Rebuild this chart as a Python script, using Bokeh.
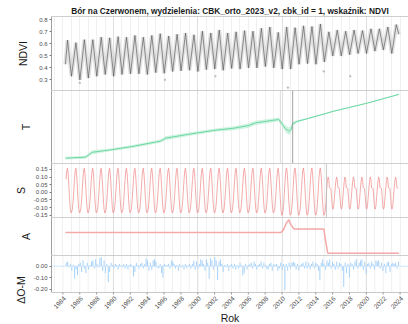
import numpy as np
from math import pi
from bokeh.plotting import figure
from bokeh.layouts import column
from bokeh.models import Range1d, FixedTicker, Span, Grid
from bokeh.core.properties import value
from bokeh.embed import file_html
from bokeh.resources import INLINE

FONT = "Liberation Sans"

# ---------------- data ----------------
# NDVI observed curve: start value, yearly summer peaks, winter troughs, end value
ndvi_start_year = 1984.30
ndvi_start = 0.43
peak_years = list(range(1984, 2024))
ndvi_peak = [0.63, 0.61, 0.635, 0.635, 0.655, 0.65, 0.66, 0.655, 0.67, 0.655,
             0.67, 0.685, 0.665, 0.68, 0.69, 0.675, 0.705, 0.69, 0.715, 0.69,
             0.70, 0.71, 0.705, 0.73, 0.74, 0.695, 0.74, 0.735, 0.75, 0.745,
             0.765, 0.70, 0.715, 0.705, 0.715, 0.71, 0.725, 0.725, 0.74, 0.76]
trough_years = list(range(1985, 2024))
ndvi_trough = [0.33, 0.30, 0.315, 0.33, 0.345, 0.33, 0.345, 0.35, 0.35, 0.345,
               0.36, 0.355, 0.37, 0.375, 0.38, 0.37, 0.385, 0.39, 0.38, 0.395,
               0.39, 0.40, 0.40, 0.41, 0.40, 0.39, 0.39, 0.43, 0.435, 0.43,
               0.45, 0.50, 0.50, 0.51, 0.52, 0.52, 0.54, 0.55, 0.52]
ndvi_end_year = 2023.85
ndvi_end = 0.68
peak_phase = 0.55
trough_phase = 0.02

# isolated low observations
out_year = [1986.0, 1996.1, 2002.1, 2010.7, 2014.95, 2018.1]
out_ndvi = [0.275, 0.30, 0.33, 0.235, 0.37, 0.33]

# trend component
t_year = [1984.31, 1986.68, 1987.48, 1989.65, 1992.41, 1995.58, 1996.17, 1998.74,
          2001.90, 2004.27, 2006.05, 2006.85, 2009.61, 2010.01, 2010.40, 2010.80,
          2011.07, 2011.26, 2011.79, 2012.98, 2016.14, 2020.10, 2023.85]
t_val = [0.422, 0.426, 0.446, 0.456, 0.471, 0.492, 0.504, 0.519,
         0.536, 0.545, 0.556, 0.567, 0.581, 0.563, 0.543, 0.533,
         0.539, 0.563, 0.573, 0.584, 0.615, 0.648, 0.684]
t_half = [0.006, 0.006, 0.008, 0.006, 0.006, 0.007, 0.008, 0.007,
          0.007, 0.008, 0.009, 0.009, 0.008, 0.010, 0.014, 0.016,
          0.014, 0.008, 0.005, 0.003, 0.002, 0.002, 0.003]
t_breaks_dotted = [2009.80]
t_breaks_solid = [2011.26]

# seasonal component: monthly profile per segment
s_start, s_end = 1984.30, 2023.85
s_breaks = [2009.80, 2015.27]
s_pre = [-0.130, -0.110, -0.060, 0.010, 0.085, 0.140, 0.158, 0.120, 0.045, -0.040, -0.105, -0.135]
s_mid = [-0.145, -0.120, -0.065, 0.010, 0.090, 0.145, 0.160, 0.120, 0.040, -0.050, -0.115, -0.150]
s_post = [-0.110, -0.095, -0.040, 0.020, 0.070, 0.100, 0.085, 0.030, 0.030, 0.025, -0.030, -0.095]

# seasonal amplitude
a_year = [1984.31, 2009.85, 2010.15, 2010.50, 2010.80, 2011.05, 2011.40, 2014.95, 2015.15, 2015.42, 2023.85]
a_val = [0.291, 0.291, 0.300, 0.327, 0.341, 0.322, 0.305, 0.305, 0.262, 0.209, 0.209]

# residuals (observed - model)
resid = [
    0.03, 0.04, -0.01, 0.02, -0.04, 0.01,
    -0.11, -0.03, -0.08, 0.02, 0.03, -0.05,
    0.05, -0.02, -0.06, 0.03, -0.03, 0.01,
    0.04, 0.05, -0.02, 0.06, 0.02, -0.01,
    0.07, 0.08, -0.04, 0.05, -0.06, 0.02,
    -0.14, -0.05, 0.03, 0.01, -0.02, 0.02,
    0.01, -0.03, 0.02, 0.01, -0.01, 0.02,
    -0.02, 0.02, -0.03, 0.01, 0.02, -0.01,
    -0.09, -0.05, 0.03, 0.01, -0.02, 0.02,
    0.03, -0.02, 0.02, 0.07, 0.05, -0.04,
    0.03, -0.03, 0.05, 0.06, 0.04, -0.01,
    -0.02, 0.02, -0.06, -0.10, 0.02, 0.01,
    0.01, 0.02, -0.02, 0.05, 0.04, 0.02,
    -0.02, 0.01, -0.04, 0.02, -0.01, 0.01,
    -0.03, 0.02, -0.02, 0.01, 0.02, -0.02,
    0.02, 0.05, -0.03, 0.04, -0.02, 0.02,
    0.06, 0.05, 0.02, -0.04, 0.06, 0.03,
    -0.11, 0.07, 0.05, -0.03, 0.08, 0.05,
    -0.12, 0.04, 0.06, 0.02, -0.05, 0.01,
    -0.01, 0.02, -0.04, 0.01, 0.02, -0.02,
    0.02, -0.03, 0.01, -0.02, 0.03, 0.01,
    -0.08, -0.06, 0.02, -0.03, 0.01, 0.02,
    0.03, -0.02, 0.04, 0.02, -0.03, 0.01,
    0.02, 0.04, -0.02, 0.03, 0.01, -0.02,
    -0.03, 0.02, 0.03, -0.04, 0.02, 0.01,
    0.02, -0.04, -0.02, 0.03, -0.03, 0.02,
    -0.21, 0.02, -0.04, 0.03, -0.02, 0.03,
    0.04, 0.03, -0.03, 0.02, -0.04, 0.01,
    0.02, 0.03, -0.02, 0.04, -0.02, 0.03,
    -0.03, 0.02, 0.04, -0.02, 0.03, 0.02,
    -0.04, -0.12, 0.03, 0.06, 0.02, -0.03,
    0.05, 0.03, 0.06, -0.02, 0.04, 0.02,
    -0.03, 0.04, -0.02, 0.03, 0.02, -0.04,
    -0.18, 0.03, -0.06, 0.02, -0.10, 0.03,
    0.02, -0.03, 0.04, 0.06, -0.02, 0.03,
    0.05, 0.06, -0.03, 0.04, -0.07, 0.02,
    0.03, -0.02, 0.04, 0.02, -0.03, 0.05,
    0.04, 0.05, -0.02, 0.03, -0.04, 0.02,
    -0.06, 0.03, 0.04, -0.05, 0.02, 0.03,
    0.02, 0.03, -0.02, 0.04,
]
resid_first, resid_last = 1984.40, 2023.80

x_tick_years = list(range(1984, 2025, 2))
x_tick_labels = [str(y) for y in x_tick_years]
grid_years = list(range(1983, 2026))
decade_years = [1990, 2000, 2010, 2020]

# ---------------- derived series ----------------
ndvi_t = [ndvi_start_year]
ndvi_v = [ndvi_start]
troughs = dict(zip(trough_years, ndvi_trough))
for yr, pk in zip(peak_years, ndvi_peak):
    ndvi_t.append(yr + peak_phase)
    ndvi_v.append(pk)
    if yr + 1 in troughs:
        ndvi_t.append(yr + 1 + trough_phase)
        ndvi_v.append(troughs[yr + 1])
ndvi_t.append(ndvi_end_year)
ndvi_v.append(ndvi_end)

s_t, s_v = [], []
for yr in range(1984, 2024):
    for m in range(12):
        tt = yr + (m + 0.5) / 12
        if tt < s_start or tt > s_end:
            continue
        prof = s_pre if tt < s_breaks[0] else (s_mid if tt < s_breaks[1] else s_post)
        s_t.append(tt)
        s_v.append(prof[m])

t_lo = [v - h for v, h in zip(t_val, t_half)]
t_hi = [v + h for v, h in zip(t_val, t_half)]
r_t = np.linspace(resid_first, resid_last, len(resid))

# ---------------- figures ----------------
xr = Range1d(1982.65, 2025.0)
SEP = "#a0a0a0"
TICK_TXT = "#4d4d4d"
GRID_YEAR = "#ececec"
GRID_DECADE = "#dadada"


def panel(height, yrange, label, yticks, label_standoff, top=0, frame_bounds=None):
    lo, hi = yrange if frame_bounds is None else frame_bounds
    p = figure(width=408, height=height, x_range=xr, y_range=Range1d(*yrange),
               output_backend="svg", toolbar_location=None, x_axis_location=None,
               min_border_left=51, min_border_right=0,
               min_border_top=top, min_border_bottom=0)
    p.outline_line_color = None
    p.background_fill_color = "white"
    p.border_fill_color = "white"
    for g in p.ygrid:
        g.grid_line_color = None
    for g in p.xgrid:
        g.grid_line_color = None
    if frame_bounds is None:
        p.add_layout(Grid(dimension=0, ticker=FixedTicker(ticks=grid_years),
                          grid_line_color=GRID_YEAR, grid_line_width=0.8))
        p.add_layout(Grid(dimension=0, ticker=FixedTicker(ticks=decade_years),
                          grid_line_color=GRID_DECADE, grid_line_width=0.8))
    else:
        p.segment(x0=grid_years, y0=lo, x1=grid_years, y1=hi,
                  line_color=GRID_YEAR, line_width=0.8, level="underlay")
        p.segment(x0=decade_years, y0=lo, x1=decade_years, y1=hi,
                  line_color=GRID_DECADE, line_width=0.8, level="underlay")
    ax = p.yaxis[0]
    ax.bounds = (lo, hi)
    ax.ticker = FixedTicker(ticks=yticks)
    ax.minor_tick_line_color = None
    ax.major_tick_in = 0
    ax.major_tick_out = 2 if yticks else 0
    ax.major_tick_line_color = "#7f7f7f"
    ax.axis_line_color = SEP
    ax.major_label_text_font = FONT
    ax.major_label_text_font_size = "6px" if yticks else "0px"
    ax.major_label_text_color = TICK_TXT
    ax.major_label_standoff = 2
    ax.axis_label = label
    ax.axis_label_text_font = FONT
    ax.axis_label_text_font_size = "10.5px"
    ax.axis_label_text_font_style = "normal"
    ax.axis_label_text_color = "#1a1a1a"
    ax.axis_label_standoff = label_standoff
    p.add_layout(Span(location=hi, dimension="width", line_color=SEP, line_width=1))
    return p


def fmt(vals, nd):
    return {v: f"{v:.{nd}f}" for v in vals}


# NDVI panel
p1 = panel(90, (0.211, 0.828), "NDVI", [0.3, 0.4, 0.5, 0.6, 0.7, 0.8], 7, top=16)
p1.yaxis[0].major_label_overrides = fmt([0.3, 0.4, 0.5, 0.6, 0.7, 0.8], 1)
p1.title.text = "Bór na Czerwonem, wydzielenia: CBK_orto_2023_v2, cbk_id = 1, wskaźnik: NDVI"
p1.title.text_font = FONT
p1.title.text_font_size = "8.3px"
p1.title.text_font_style = "bold"
p1.title.text_color = "#1a1a1a"
p1.title.align = "center"
p1.title.standoff = 2
p1.line(ndvi_t, ndvi_v, line_color="#a0a0a0", line_width=4, line_alpha=0.3)
p1.line(ndvi_t, ndvi_v, line_color="#4a4a4a", line_width=0.7, line_alpha=0.85)
p1.scatter(out_year, out_ndvi, size=1.6, color="#b0b0b0", alpha=0.7)

# trend panel
p2 = panel(73, (0.40, 0.70), "T", [], 20)
p2.varea(x=t_year, y1=t_lo, y2=t_hi, fill_color="#c4f0da", fill_alpha=0.8)
p2.line(t_year, t_val, line_color="#6cd8a3", line_width=1.0)
for b in t_breaks_dotted:
    p2.add_layout(Span(location=b, dimension="height", line_color="#a8a8a8",
                       line_width=0.8, line_dash="1 1"))
for b in t_breaks_solid:
    p2.add_layout(Span(location=b, dimension="height", line_color="#8a8a8a",
                       line_width=0.8))

# seasonal panel
s_ticks = [-0.15, -0.10, -0.05, 0.0, 0.05, 0.10, 0.15]
p3 = panel(54, (-0.165, 0.189), "S", s_ticks, 4)
p3.yaxis[0].major_label_overrides = fmt(s_ticks, 2)
p3.add_layout(Span(location=s_breaks[1], dimension="height", line_color="#bdbdbd",
                   line_width=0.8))
p3.line(s_t, s_v, line_color="#f07a7a", line_width=0.8, line_alpha=0.8)

# amplitude panel
p4 = panel(38, (0.20, 0.35), "A", [], 20)
p4.line(a_year, a_val, line_color="#f4a8a8", line_width=1.5)

# residual panel; its lower strip carries the time axis
r_lo, r_hi = -0.229, 0.093
r_frame_px, axis_px = 37, 32
upp = (r_hi - r_lo) / r_frame_px          # data units per pixel
r_bottom = r_lo - axis_px * upp
r_ticks = [-0.2, -0.1, 0.0]
p5 = panel(r_frame_px + axis_px, (r_bottom, r_hi), "ΔO-M", r_ticks, 4,
           frame_bounds=(r_lo, r_hi))
p5.yaxis[0].major_label_overrides = fmt(r_ticks, 2)
p5.add_layout(Span(location=0, dimension="width", line_color="#c2e0fb", line_width=0.8))
p5.segment(x0=r_t, y0=0, x1=r_t, y1=resid, line_color="#a6d1f8", line_width=1)

# time axis: rule, ticks, rotated labels, title
p5.segment(x0=[xr.start], y0=[r_lo], x1=[xr.end], y1=[r_lo],
           line_color="#c8c8c8", line_width=1)
p5.segment(x0=x_tick_years, y0=r_lo, x1=x_tick_years, y1=r_lo - 2 * upp,
           line_color="#7f7f7f", line_width=0.8)
p5.text(x=x_tick_years, y=[r_lo - 3 * upp] * len(x_tick_years), text=x_tick_labels,
        angle=pi / 4, text_align="right", text_baseline="top",
        text_font=value(FONT), text_font_size=value("6.5px"), text_color=TICK_TXT)
p5.text(x=[(xr.start + xr.end) / 2], y=[r_lo - 25 * upp], text=["Rok"],
        text_align="center", text_baseline="middle",
        text_font=value(FONT), text_font_size=value("10.5px"), text_color="#1a1a1a")

layout = column(p1, p2, p3, p4, p5, spacing=0)
open("out.html", "w").write(file_html(layout, INLINE))
